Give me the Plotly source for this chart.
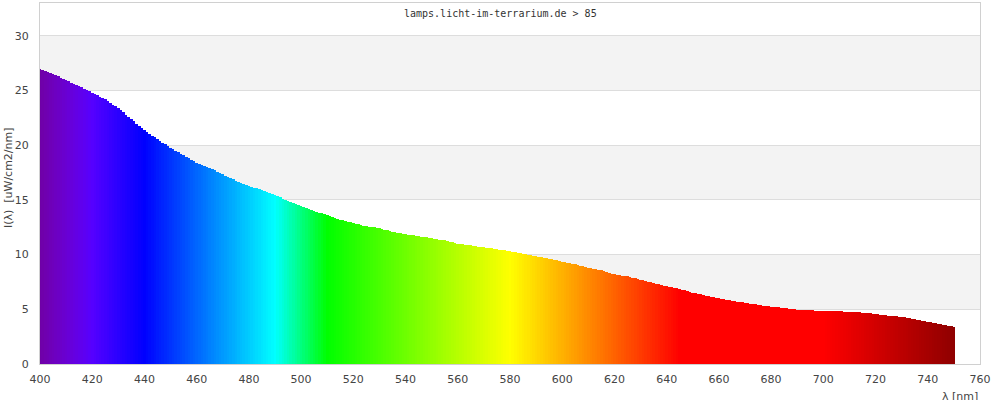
import plotly.graph_objects as go

wavelengths = list(range(400, 751))

intensity = [
    27.00, 26.91, 26.82, 26.73, 26.64, 26.55, 26.43, 26.31, 26.19, 26.07,
    25.95, 25.84, 25.73, 25.62, 25.51, 25.40, 25.28, 25.16, 25.04, 24.92,
    24.80, 24.68, 24.56, 24.44, 24.32, 24.20, 24.04, 23.88, 23.72, 23.56,
    23.40, 23.20, 23.00, 22.80, 22.60, 22.40, 22.19, 21.98, 21.77, 21.56,
    21.35, 21.19, 21.03, 20.87, 20.71, 20.55, 20.39, 20.23, 20.07, 19.91,
    19.75, 19.62, 19.49, 19.36, 19.23, 19.10, 18.96, 18.82, 18.68, 18.54,
    18.40, 18.31, 18.22, 18.13, 18.04, 17.95, 17.83, 17.71, 17.59, 17.47,
    17.35, 17.23, 17.12, 17.00, 16.89, 16.77, 16.67, 16.57, 16.48, 16.38,
    16.28, 16.20, 16.13, 16.05, 15.98, 15.90, 15.81, 15.72, 15.63, 15.54,
    15.45, 15.34, 15.23, 15.12, 15.01, 14.90, 14.81, 14.72, 14.63, 14.54,
    14.45, 14.36, 14.27, 14.18, 14.09, 14.00, 13.92, 13.84, 13.76, 13.68,
    13.60, 13.52, 13.44, 13.36, 13.28, 13.20, 13.14, 13.08, 13.02, 12.96,
    12.90, 12.84, 12.78, 12.72, 12.66, 12.60, 12.56, 12.52, 12.48, 12.44,
    12.40, 12.34, 12.28, 12.22, 12.16, 12.10, 12.05, 12.00, 11.95, 11.90,
    11.85, 11.82, 11.78, 11.75, 11.71, 11.68, 11.64, 11.61, 11.57, 11.54,
    11.50, 11.46, 11.42, 11.38, 11.34, 11.30, 11.24, 11.18, 11.12, 11.06,
    11.00, 10.97, 10.94, 10.91, 10.88, 10.85, 10.81, 10.78, 10.74, 10.70,
    10.67, 10.64, 10.60, 10.57, 10.53, 10.50, 10.46, 10.42, 10.38, 10.34,
    10.30, 10.25, 10.20, 10.16, 10.11, 10.06, 10.02, 9.97, 9.93, 9.89,
    9.85, 9.81, 9.76, 9.72, 9.67, 9.63, 9.58, 9.52, 9.47, 9.41,
    9.36, 9.31, 9.26, 9.22, 9.17, 9.12, 9.06, 8.99, 8.93, 8.86,
    8.80, 8.75, 8.71, 8.66, 8.62, 8.57, 8.50, 8.42, 8.35, 8.27,
    8.20, 8.16, 8.13, 8.09, 8.06, 8.02, 7.96, 7.90, 7.83, 7.77,
    7.71, 7.65, 7.59, 7.53, 7.47, 7.41, 7.35, 7.29, 7.22, 7.16,
    7.10, 7.05, 7.00, 6.96, 6.91, 6.86, 6.79, 6.72, 6.66, 6.59,
    6.52, 6.47, 6.41, 6.36, 6.30, 6.25, 6.20, 6.15, 6.10, 6.05,
    6.00, 5.96, 5.92, 5.87, 5.83, 5.79, 5.75, 5.71, 5.68, 5.64,
    5.60, 5.56, 5.52, 5.48, 5.44, 5.40, 5.37, 5.34, 5.30, 5.27,
    5.24, 5.22, 5.19, 5.17, 5.14, 5.12, 5.09, 5.06, 5.04, 5.01,
    4.98, 4.97, 4.95, 4.94, 4.92, 4.91, 4.90, 4.88, 4.87, 4.86,
    4.85, 4.84, 4.84, 4.83, 4.83, 4.82, 4.81, 4.80, 4.78, 4.77,
    4.76, 4.75, 4.74, 4.72, 4.71, 4.70, 4.67, 4.65, 4.62, 4.60,
    4.57, 4.54, 4.51, 4.48, 4.45, 4.42, 4.40, 4.37, 4.35, 4.32,
    4.30, 4.26, 4.22, 4.17, 4.13, 4.09, 4.04, 3.99, 3.94, 3.89,
    3.84, 3.80, 3.77, 3.73, 3.70, 3.66, 3.61, 3.56, 3.51, 3.46,
    3.41,
]

x_ticks = [400, 420, 440, 460, 480, 500, 520, 540, 560, 580, 600, 620,
           640, 660, 680, 700, 720, 740, 760]
y_ticks = [0, 5, 10, 15, 20, 25, 30]

title_text = "lamps.licht-im-terrarium.de > 85"
y_title = "I(λ)  [uW/cm2/nm]"
x_title = "λ [nm]"


def wl_color(w):
    if w < 440:
        r, g, b = -(w - 440) / 60.0, 0.0, 1.0
    elif w < 490:
        r, g, b = 0.0, (w - 440) / 50.0, 1.0
    elif w < 510:
        r, g, b = 0.0, 1.0, -(w - 510) / 20.0
    elif w < 580:
        r, g, b = (w - 510) / 70.0, 1.0, 0.0
    elif w < 645:
        r, g, b = 1.0, -(w - 645) / 65.0, 0.0
    else:
        r, g, b = 1.0, 0.0, 0.0
    if w < 420:
        f = 0.3 + 0.7 * (w - 380) / 40.0
    elif w > 700:
        f = 0.3 + 0.7 * (780 - w) / 80.0
    else:
        f = 1.0
    return "rgb(%d,%d,%d)" % (round(255 * r * f), round(255 * g * f), round(255 * b * f))


colors = [wl_color(w) for w in wavelengths]

fig = go.Figure()
fig.add_trace(go.Bar(
    x=wavelengths, y=intensity, width=1.0,
    marker=dict(color=colors, line=dict(width=0)),
    hoverinfo="x+y", showlegend=False,
))

shapes = []
for lo in (5, 15, 25):
    shapes.append(dict(type="rect", xref="paper", yref="y", x0=0, x1=1,
                       y0=lo, y1=lo + 5, fillcolor="#f3f3f3",
                       line=dict(width=0), layer="below"))

fig.update_layout(
    width=1000, height=400,
    margin=dict(l=40, r=20, t=3, b=36, autoexpand=False),
    paper_bgcolor="white", plot_bgcolor="white",
    bargap=0,
    shapes=shapes,
    font=dict(family="DejaVu Sans", size=11, color="#444"),
    xaxis=dict(range=[400, 760], tickvals=x_ticks, ticktext=[str(v) for v in x_ticks],
               showgrid=False, zeroline=False, showline=True, linecolor="#d0d0d0",
               linewidth=1, mirror=True, ticks="", automargin=False,
               ticklabelstandoff=5, tickfont=dict(size=11, color="#444")),
    yaxis=dict(range=[0, 33], tickvals=y_ticks, ticktext=[str(v) for v in y_ticks],
               showgrid=True, gridcolor="#dddddd", gridwidth=1, zeroline=False,
               showline=True, linecolor="#d0d0d0", linewidth=1, mirror=True,
               ticks="", automargin=False, ticklabelstandoff=8,
               tickfont=dict(size=11, color="#444")),
    annotations=[
        dict(text=title_text, xref="paper", yref="paper", x=0.49, y=1, yshift=-3,
             xanchor="center", yanchor="top", showarrow=False,
             font=dict(family="DejaVu Sans Mono", size=10, color="#333")),
        dict(text=y_title, xref="paper", yref="paper", x=0, y=0.515, xshift=-32,
             xanchor="center", yanchor="middle", textangle=-90, showarrow=False,
             font=dict(size=11, color="#444")),
        dict(text=x_title, xref="paper", yref="paper", x=1, y=0, yshift=-24,
             xanchor="right", yanchor="top", showarrow=False,
             font=dict(size=11, color="#444")),
    ],
)

fig.write_html("out.html", config={"displayModeBar": False},
               post_script="document.body.style.margin='0';document.body.style.overflow='hidden';")
